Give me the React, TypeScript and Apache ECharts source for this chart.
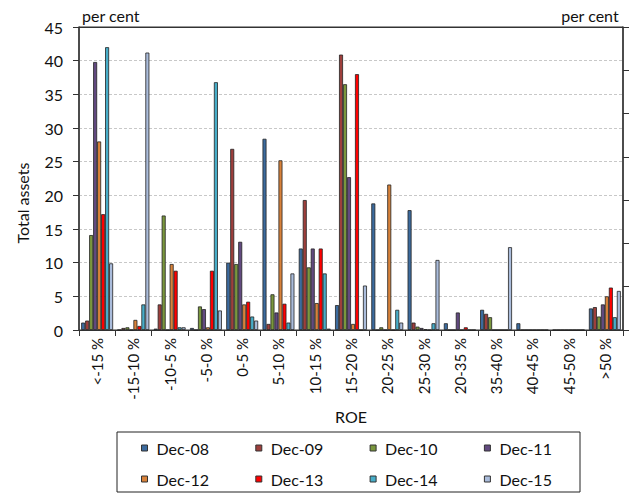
import React, { useEffect, useRef } from "react";
import * as echarts from "echarts";

const categories = ["<-15 %", "-15-10 %", "-10-5 %", "-5-0 %", "0-5 %", "5-10 %", "10-15 %", "15-20 %", "20-25 %", "25-30 %", "20-35 %", "35-40 %", "40-45 %", "45-50 %", ">50 %"];
const seriesNames = ["Dec-08", "Dec-09", "Dec-10", "Dec-11", "Dec-12", "Dec-13", "Dec-14", "Dec-15"];
const dec08 = [1.1, 0, 0.2, 0.3, 10.0, 28.4, 12.1, 3.7, 18.8, 17.8, 1.0, 3.0, 1.0, 0, 3.2];
const dec09 = [1.4, 0.3, 3.8, 0, 26.9, 0.9, 19.3, 40.9, 0, 1.1, 0, 2.4, 0, 0, 3.4];
const dec10 = [14.1, 0.4, 17.0, 3.5, 9.8, 5.3, 9.3, 36.5, 0.4, 0.5, 0, 1.9, 0, 0, 2.0];
const dec11 = [39.8, 0, 0, 3.1, 13.1, 2.6, 12.1, 22.7, 0, 0.3, 2.6, 0, 0, 0, 3.8];
const dec12 = [28.0, 1.5, 9.8, 0.4, 3.8, 25.2, 4.0, 0.9, 21.6, 0.1, 0, 0, 0, 0, 5.0];
const dec13 = [17.2, 0.6, 8.8, 8.8, 4.2, 3.9, 12.1, 38.0, 0, 0, 0.4, 0, 0, 0, 6.3];
const dec14 = [42.0, 3.8, 0.4, 36.8, 2.0, 1.1, 8.4, 0, 3.0, 1.0, 0, 0, 0, 0, 1.9];
const dec15 = [9.9, 41.2, 0.4, 2.9, 1.4, 8.4, 0.2, 6.6, 1.1, 10.4, 0, 12.3, 0, 0, 5.8];
const seriesData = [dec08, dec09, dec10, dec11, dec12, dec13, dec14, dec15];
const colors = ["#3C6B9E", "#9E3F3C", "#7A973D", "#624A80", "#D8823A", "#FF0000", "#47ADC8", "#AABCDB"];

const FONT = "Lato";

export default function App() {
  const ref = useRef<HTMLDivElement>(null);
  useEffect(() => {
    if (!ref.current) return;
    const chart = echarts.init(ref.current, null, { renderer: "svg" });
    const legendX0 = 141;
    const legendDX = 114.3;
    const legendY = [440, 471];
    const legends = seriesNames.map((n, i) => ({
      data: [n],
      left: legendX0 + (i % 4) * legendDX,
      top: legendY[Math.floor(i / 4)],
      itemWidth: 6,
      itemHeight: 6,
      icon: "rect",
      padding: 0,
      itemStyle: { borderColor: "#333", borderWidth: 1 },
      textStyle: { fontFamily: FONT, fontSize: 16, color: "#111", padding: [0, 0, 0, 4] },
    }));
    chart.setOption({
      animation: false,
      color: colors,
      textStyle: { fontFamily: FONT },
      grid: { left: 79, right: 12, top: 27, bottom: 167, show: true, borderColor: "#333", borderWidth: 1 },
      legend: legends,
      graphic: [
        { type: "rect", shape: { x: 117, y: 432, width: 463, height: 60 }, style: { fill: "none", stroke: "#222", lineWidth: 1 } },
        { type: "line", shape: { x1: 79, y1: 27.5, x2: 623, y2: 27.5 }, style: { stroke: "#333", lineWidth: 1.2 }, z: 100 },
        { type: "text", left: 82, top: 7, style: { text: "per cent", fontFamily: FONT, fontSize: 16, fill: "#111" } },
        { type: "text", right: 16, top: 7, style: { text: "per cent", fontFamily: FONT, fontSize: 16, fill: "#111" } },
        {
          type: "text",
          x: 22,
          y: 203,
          rotation: Math.PI / 2,
          style: { text: "Total assets", fontFamily: FONT, fontSize: 16, fill: "#111", align: "center", verticalAlign: "middle" },
        },
      ],
      xAxis: {
        type: "category",
        data: categories,
        name: "ROE",
        nameLocation: "middle",
        nameGap: 78,
        nameTextStyle: { fontFamily: FONT, fontSize: 16, color: "#111" },
        axisLine: { lineStyle: { color: "#333", width: 1 } },
        axisTick: { show: true, length: 6, lineStyle: { color: "#333" } },
        axisLabel: { rotate: 90, fontFamily: FONT, fontSize: 15, color: "#111", margin: 8 },
      },
      yAxis: [
        {
          type: "value",
          min: 0,
          max: 45,
          interval: 5,
          axisLine: { show: true, lineStyle: { color: "#333", width: 1.5 } },
          axisTick: { show: true, length: 6, lineStyle: { color: "#333" } },
          axisLabel: { fontFamily: FONT, fontSize: 16, color: "#111", margin: 16 },
          splitLine: { show: true, lineStyle: { color: "#c8c8c8", type: [3, 2] } },
        },
        {
          type: "value",
          position: "right",
          min: 0,
          max: 7,
          interval: 1,
          axisLine: { show: true, lineStyle: { color: "#333", width: 1.5 } },
          axisTick: { show: true, length: 6, lineStyle: { color: "#333" } },
          axisLabel: { show: false },
          splitLine: { show: false },
        },
      ],
      series: seriesNames.map((n, i) => ({
        name: n,
        type: "bar",
        data: seriesData[i],
        barGap: "0%",
        barCategoryGap: "12%",
        itemStyle: { color: colors[i], borderColor: "#222", borderWidth: 0.8 },
      })),
    });
    return () => chart.dispose();
  }, []);
  return <div ref={ref} style={{ position: "absolute", left: 0, top: 0, width: 635, height: 497 }} />;
}
